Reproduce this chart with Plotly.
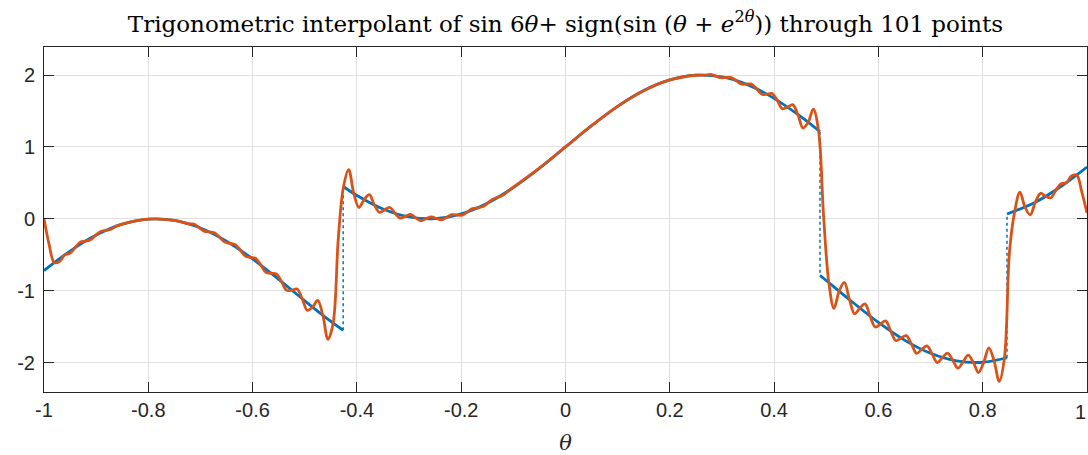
import plotly.graph_objects as go

# ---------------- data ----------------
# exact function (blue), piecewise segments
seg1_x = [-1.0, -0.95, -0.9, -0.85, -0.8, -0.75, -0.7, -0.65, -0.6, -0.55, -0.5, -0.45, -0.4263]
seg1_y = [-0.7206, -0.4493, -0.2272, -0.0742, -0.0038, -0.0225, -0.1284, -0.3122, -0.5575, -0.8423, -1.1411, -1.4274, -1.5512]
seg2_x = [-0.4263, -0.4, -0.35, -0.3, -0.25, -0.2, -0.15, -0.1, -0.05, 0.0, 0.05, 0.1, 0.15, 0.2, 0.25, 0.3, 0.35, 0.4, 0.45, 0.488]
seg2_y = [0.4488, 0.3245, 0.1368, 0.0262, 0.0025, 0.0680, 0.2167, 0.4354, 0.7045, 1.0, 1.2955, 1.5646, 1.7833, 1.9320, 1.9975, 1.9739, 1.8632, 1.6755, 1.4274, 1.2120]
seg3_x = [0.488, 0.5, 0.55, 0.6, 0.65, 0.7, 0.75, 0.8, 0.8466]
seg3_y = [-0.7880, -0.8589, -1.1578, -1.4425, -1.6878, -1.8716, -1.9775, -1.9962, -1.9333]
seg4_x = [0.8466, 0.9, 0.95, 1.0]
seg4_y = [0.0667, 0.2272, 0.4493, 0.7206]

# jump locations (dotted connectors)
jump_x = [-0.4263, 0.488, 0.8466]
jump_lo = [-1.5512, 1.2120, -1.9333]
jump_hi = [0.4488, -0.7880, 0.0667]

# trigonometric interpolant (orange)
interp_x = [
    -1.00000, -0.99010, -0.98020, -0.97030, -0.96040, -0.95050, -0.94059, -0.93069, -0.92079, -0.91089,
    -0.90099, -0.89109, -0.88119, -0.87129, -0.86139, -0.85, -0.80, -0.75,
    -0.72277, -0.71287, -0.70297, -0.69307, -0.68317, -0.67327, -0.66337, -0.65347, -0.64356, -0.63366,
    -0.62376, -0.61386, -0.60396, -0.59406, -0.58416, -0.57426, -0.56436, -0.55446, -0.54455, -0.53465,
    -0.52475, -0.51485, -0.50495, -0.49505, -0.48515, -0.47525, -0.46535, -0.45545, -0.44554, -0.43564,
    -0.42574, -0.41584, -0.40594, -0.39604, -0.38614, -0.37624, -0.36634, -0.35644, -0.34653, -0.33663,
    -0.32673, -0.31683, -0.30693, -0.29703, -0.28713, -0.27723, -0.26733, -0.25743, -0.24752, -0.23762,
    -0.22772, -0.21782, -0.20792, -0.19802, -0.18812, -0.17822, -0.16832, -0.15842, -0.14851, -0.13861,
    -0.12871, -0.11881, -0.10891, -0.05, 0.0, 0.05, 0.10, 0.15, 0.20, 0.25,
    0.26733, 0.27723, 0.28713, 0.29703, 0.30693, 0.31683, 0.32673, 0.33663, 0.34653, 0.35644,
    0.36634, 0.37624, 0.38614, 0.39604, 0.40594, 0.41584, 0.42574, 0.43564, 0.44554, 0.45545,
    0.46535, 0.47525, 0.48515, 0.49505, 0.50495, 0.51485, 0.52475, 0.53465, 0.54455, 0.55446,
    0.56436, 0.57426, 0.58416, 0.59406, 0.60396, 0.61386, 0.62376, 0.63366, 0.64356, 0.65347,
    0.66337, 0.67327, 0.68317, 0.69307, 0.70297, 0.71287, 0.72277, 0.73267, 0.74257, 0.75248,
    0.76238, 0.77228, 0.78218, 0.79208, 0.80198, 0.81188, 0.82178, 0.83168, 0.84158, 0.85149,
    0.86139, 0.87129, 0.88119, 0.89109, 0.90099, 0.91089, 0.92079, 0.93069, 0.94059, 0.95050,
    0.96040, 0.97030, 0.98020, 0.99010, 1.00000,
]
interp_y = [
    0.000, -0.360, -0.609, -0.595, -0.502, -0.482, -0.403, -0.327, -0.312, -0.292,
    -0.231, -0.176, -0.161, -0.144, -0.102, -0.074, -0.004, -0.022,
    -0.070, -0.073, -0.120, -0.172, -0.182, -0.194, -0.256, -0.324, -0.341, -0.357,
    -0.435, -0.519, -0.536, -0.552, -0.645, -0.746, -0.758, -0.766, -0.875, -0.996,
    -0.993, -0.977, -1.112, -1.275, -1.229, -1.136, -1.342, -1.678, -1.451, -0.270,
    0.446, 0.683, 0.351, 0.157, 0.266, 0.335, 0.190, 0.089, 0.127, 0.157,
    0.075, 0.009, 0.036, 0.062, 0.012, -0.028, 0.001, 0.027, 0.004, -0.015,
    0.021, 0.057, 0.052, 0.052, 0.096, 0.141, 0.153, 0.170, 0.222, 0.275,
    0.302, 0.334, 0.392, 0.704, 1.000, 1.296, 1.565, 1.783, 1.932, 1.997,
    1.999, 2.008, 1.988, 1.963, 1.964, 1.966, 1.925, 1.875, 1.874, 1.875,
    1.810, 1.733, 1.734, 1.743, 1.649, 1.532, 1.554, 1.589, 1.451, 1.263,
    1.342, 1.526, 1.229, 0.020, -0.888, -1.245, -1.007, -0.886, -1.125, -1.323,
    -1.242, -1.184, -1.355, -1.508, -1.464, -1.420, -1.565, -1.695, -1.659, -1.625,
    -1.744, -1.871, -1.818, -1.769, -1.880, -2.001, -1.930, -1.870, -1.967, -2.079,
    -1.990, -1.897, -2.000, -2.139, -1.995, -1.797, -1.976, -2.262, -1.944, -0.450,
    0.102, 0.370, 0.161, 0.054, 0.231, 0.355, 0.312, 0.292, 0.403, 0.487,
    0.502, 0.595, 0.609, 0.370, 0.080,
]

x_ticks = [-1, -0.8, -0.6, -0.4, -0.2, 0, 0.2, 0.4, 0.6, 0.8, 1]
x_labels = ["-1", "-0.8", "-0.6", "-0.4", "-0.2", "0", "0.2", "0.4", "0.6", "0.8", "1"]
y_ticks = [-2, -1, 0, 1, 2]
y_labels = ["-2", "-1", "0", "1", "2"]

BLUE = "#0072BD"
ORANGE = "#D95319"
AXC = "#262626"
TICKFONT = dict(family="Liberation Sans, Arial, sans-serif", size=20, color=AXC)

# ---------------- figure ----------------
fig = go.Figure()

bx = seg1_x + [None] + seg2_x + [None] + seg3_x + [None] + seg4_x
by = seg1_y + [None] + seg2_y + [None] + seg3_y + [None] + seg4_y
fig.add_trace(go.Scatter(x=bx, y=by, mode="lines", line=dict(color=BLUE, width=2.8, shape="spline"),
                         connectgaps=False, showlegend=False, hoverinfo="skip"))

jx, jy = [], []
for xx, lo, hi in zip(jump_x, jump_lo, jump_hi):
    jx += [xx, xx, None]
    jy += [lo, hi, None]
fig.add_trace(go.Scatter(x=jx, y=jy, mode="lines", line=dict(color=BLUE, width=1.5, dash="dot"),
                         connectgaps=False, showlegend=False, hoverinfo="skip"))

fig.add_trace(go.Scatter(x=interp_x, y=interp_y, mode="lines",
                         line=dict(color=ORANGE, width=2.8, shape="spline", smoothing=1.0),
                         showlegend=False, hoverinfo="skip"))

axis_common = dict(
    showline=True, linecolor=AXC, linewidth=1, mirror="ticks",
    ticks="inside", ticklen=10, tickcolor=AXC, tickwidth=1,
    showgrid=True, gridcolor="#DFDFDF", gridwidth=1, zeroline=False,
    tickfont=TICKFONT,
)

# last x tick label (at the right edge) drawn as annotation so it is not dropped
x_text = x_labels[:-1] + [""]

fig.update_layout(
    width=1088, height=455,
    margin=dict(l=44, r=1, t=47, b=63),
    paper_bgcolor="white", plot_bgcolor="white",
    title=dict(
        text="Trigonometric interpolant of sin 6<i>θ</i>+ sign(sin (<i>θ</i> + <i>e</i><sup>2<i>θ</i></sup>)) through 101 points",
        x=0.5, xref="paper", xanchor="center",
        y=1 - 24 / 455, yref="container", yanchor="middle",
        font=dict(family="DejaVu Serif, Liberation Serif, serif", size=23, color="black"),
    ),
    xaxis=dict(range=[-1, 1], tickvals=x_ticks, ticktext=x_text,
               title=dict(text="<i>θ</i>", font=dict(family="DejaVu Serif, serif", size=21, color=AXC), standoff=16),
               **axis_common),
    yaxis=dict(range=[-2.41, 2.39], tickvals=y_ticks, ticktext=y_labels, ticklabelstandoff=4, **axis_common),
    annotations=[dict(text=x_labels[-1], x=x_ticks[-1], xref="x", y=0, yref="paper",
                      xanchor="right", yanchor="top", xshift=1, yshift=-7, showarrow=False,
                      font=TICKFONT)],
)

fig.write_html("out.html")
